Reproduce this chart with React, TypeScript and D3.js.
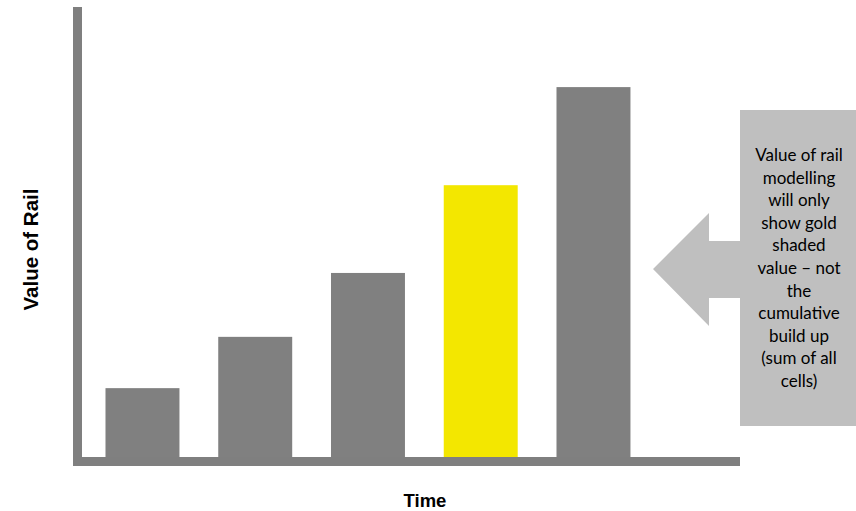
import React from "react";
import * as d3 from "d3";

const categories = ["P1", "P2", "P3", "P4", "P5"];
const values = [15.3, 26.7, 40.9, 60.4, 82.2];
const highlighted = ["P4"];
const yAxisLabel = "Value of Rail";
const xAxisLabel = "Time";
const calloutLines = [
  "Value of rail",
  "modelling",
  "will only",
  "show gold",
  "shaded",
  "value \u2013 not",
  "the",
  "cumulative",
  "build up",
  "(sum of all",
  "cells)",
];

const W = 856;
const H = 511;

export default function App() {
  const step = 112.75;
  const x = d3
    .scaleBand<string>()
    .domain(categories)
    .range([86.1, 86.1 + step * categories.length])
    .paddingInner(0.344)
    .paddingOuter(0.172);
  const y = d3.scaleLinear().domain([0, 100]).range([457, 7]);
  const axisColor = "#7f7f7f";
  const axisW = 9;
  const x0 = 73;
  const y0 = y(0);

  const callout = d3.path();
  callout.moveTo(740, 110);
  callout.lineTo(856, 110);
  callout.lineTo(856, 426);
  callout.lineTo(740, 426);
  callout.lineTo(740, 298);
  callout.lineTo(709, 298);
  callout.lineTo(709, 326);
  callout.lineTo(653, 269);
  callout.lineTo(709, 213);
  callout.lineTo(709, 241);
  callout.lineTo(740, 241);
  callout.closePath();

  const lineH = 22.6;
  const textTop = 161;

  return (
    <svg
      width={W}
      height={H}
      style={{ position: "absolute", left: 0, top: 0, background: "#fff" }}
    >
      {categories.map((c, i) => (
        <rect
          key={c}
          x={x(c)}
          y={y(values[i])}
          width={x.bandwidth()}
          height={y0 - y(values[i])}
          fill={highlighted.includes(c) ? "#f3e700" : "#808080"}
        />
      ))}
      {/* y axis */}
      <rect x={x0} y={y(100)} width={axisW} height={y0 + axisW - y(100)} fill={axisColor} />
      {/* x axis */}
      <rect x={x0} y={y0} width={740 - x0} height={axisW} fill={axisColor} />
      <text
        transform={`translate(38, 249.5) rotate(-90)`}
        textAnchor="middle"
        fontFamily="Liberation Sans, Arial, sans-serif"
        fontWeight="bold"
        fontSize={20.5}
        fill="#000"
      >
        {yAxisLabel}
      </text>
      <text
        x={425}
        y={507}
        textAnchor="middle"
        fontFamily="Liberation Sans, Arial, sans-serif"
        fontWeight="bold"
        fontSize={18.5}
        fill="#000"
      >
        {xAxisLabel}
      </text>
      <path d={callout.toString()} fill="#bfbfbf" />
      {calloutLines.map((l, i) => (
        <text
          key={i}
          x={799}
          y={textTop + i * lineH}
          textAnchor="middle"
          fontFamily="Lato, 'Open Sans', sans-serif"
          fontSize={17}
          fill="#000"
        >
          {l}
        </text>
      ))}
    </svg>
  );
}
